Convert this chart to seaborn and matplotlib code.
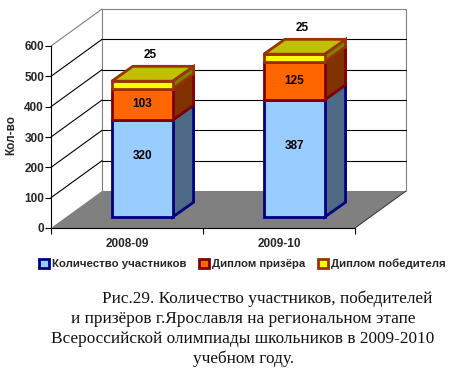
import pandas as pd
import seaborn as sns
import matplotlib.pyplot as plt

# Values
years = ['2008-09', '2009-10']
participants = [320, 387]
prize = [103, 125]
winners = [25, 25]
yticks = [0, 100, 200, 300, 400, 500, 600]
caption = [
    'Рис.29. Количество участников, победителей',
    'и призёров г.Ярославля на региональном этапе',
    'Всероссийской олимпиады школьников в 2009-2010',
    'учебном году.',
]

df = pd.DataFrame({'year': years, 'participants': participants, 'prize': prize, 'winners': winners})

sns.set_style('white')
plt.rcParams['font.family'] = ['Liberation Sans', 'DejaVu Sans']

W, H = 473, 389
fig = plt.figure(figsize=(W / 100, H / 100), dpi=100)
# axes box is the front plane of the fake 3d chart
ax = fig.add_axes([51 / W, 1 - 228 / H, 304 / W, 182 / H])
x0, x1 = -0.6, 1.4

# depth of the walls and of the bars, in data units
wall_dx, wall_dy = 0.336, 122
bar_dx, bar_dy = 0.138, 49
base = 36
width = 0.4

# floor and walls
ax.fill([x0, x0 + wall_dx, x1 + wall_dx, x1], [0, wall_dy, wall_dy, 0],
        color='#808080', lw=0, zorder=0, clip_on=False)
ax.plot([x1, x1 + wall_dx], [0, wall_dy], color='#303030', lw=0.7, zorder=1, clip_on=False)
ax.plot([x0 + wall_dx, x0 + wall_dx, x1 + wall_dx, x1 + wall_dx],
        [wall_dy, 600 + wall_dy, 600 + wall_dy, wall_dy],
        color='#808080', lw=0.8, zorder=1, clip_on=False)
for t in yticks[1:]:
    c = '#808080' if t == 600 else 'black'
    ax.plot([x0, x0 + wall_dx], [t, t + wall_dy], color=c, lw=0.8, zorder=1, clip_on=False)
    if t < 600:
        ax.plot([x0 + wall_dx, x1 + wall_dx], [t + wall_dy, t + wall_dy],
                color='black', lw=0.8, zorder=1, clip_on=False)

# (column, label, front, edge, side, label nudge up, label nudge right)
series = [
    ('participants', 'Количество участников', '#99CCFF', '#000080', '#4D6985', 40, 0),
    ('prize', 'Диплом призёра', '#FF6600', '#800000', '#803300', 0, 0),
    ('winners', 'Диплом победителя', '#FFFF00', '#993300', '#808000', 100, 0.055),
]

bottom = [base] * len(years)
for col, label, front, edge, side, up, right in series:
    sns.barplot(data=df, x='year', y=col, bottom=bottom, width=width, color=front, saturation=1,
                edgecolor=edge, linewidth=2, label=label, zorder=3, ax=ax, legend=False)
    for i, v in enumerate(df[col]):
        xr = i + width / 2
        b, t = bottom[i], bottom[i] + v
        ax.fill([xr, xr + bar_dx, xr + bar_dx, xr], [b, b + bar_dy, t + bar_dy, t],
                facecolor=side, edgecolor=edge, lw=2, zorder=2.5, clip_on=False, joinstyle='miter')
        ax.text(i + right, b + v / 2 + up, str(v), ha='center', va='center',
                fontsize=8.5, fontweight='bold', color='black', zorder=6, clip_on=False)
    bottom = [b + v for b, v in zip(bottom, df[col])]

# lid of each stack
for i in range(len(years)):
    xl, xr = i - width / 2, i + width / 2
    t = bottom[i]
    ax.fill([xl, xl + bar_dx, xr + bar_dx, xr], [t, t + bar_dy, t + bar_dy, t],
            facecolor='#C0C000', edgecolor='#993300', lw=2, zorder=4, clip_on=False, joinstyle='miter')

for p in ax.patches:
    p.set_clip_on(False)

# barplot resets the limits, so they go here
ax.set_xlim(x0, x1)
ax.set_ylim(0, 600)

# axes furniture
sns.despine(ax=ax)
for s in ['left', 'bottom']:
    ax.spines[s].set_color('black')
    ax.spines[s].set_linewidth(0.8)
    ax.spines[s].set_zorder(5)
ax.set_yticks(yticks)
ax.set_yticklabels([str(t) for t in yticks], fontsize=8.5, fontweight='bold')
ax.set_xticks([x0, x0 + 1, x1])
ax.set_xticklabels([])
ax.set_xticks([-0.1, 0.9], minor=True)
ax.set_xticklabels(years, minor=True, fontsize=8.5, fontweight='bold')
ax.tick_params(axis='x', which='major', bottom=True, length=4, width=0.8, color='black')
ax.tick_params(axis='x', which='minor', bottom=False, pad=5)
ax.tick_params(axis='y', left=True, length=4, width=0.8, color='black', pad=1)
ax.set_xlabel('')
ax.set_ylabel('')
fig.text(11 / W, 1 - 135 / H, 'Кол-во', rotation=90, ha='center', va='center',
         fontsize=8.5, fontweight='bold')

# legend
ax.legend(handles=list(ax.containers), labels=[s[1] for s in series], ncol=3, frameon=False,
          loc='center left', bbox_to_anchor=(39 / W, 1 - 264 / H), bbox_transform=fig.transFigure,
          prop={'size': 8.2, 'weight': 'bold'}, handlelength=0.9, handleheight=0.9,
          handletextpad=0.2, columnspacing=1.15, borderaxespad=0, borderpad=0)

# caption under the chart
for line, cx, py in zip(caption, [267, 243, 243, 243], [299, 319, 339, 359]):
    fig.text(cx / W, 1 - py / H, line, ha='center', va='center', fontsize=12.4,
             family=['Liberation Serif', 'DejaVu Serif'], color='#111111')

fig.savefig('out.png', dpi=100)
